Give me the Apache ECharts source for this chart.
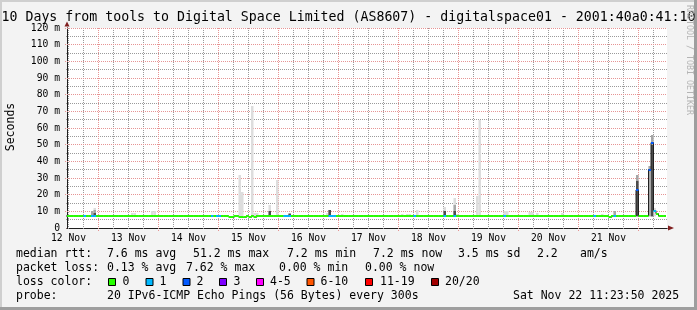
<!DOCTYPE html>
<html><head><meta charset="utf-8">
<script src="https://cdn.jsdelivr.net/npm/echarts@6/dist/echarts.min.js"></script>
<style>html,body{margin:0;padding:0;background:#f3f3f3}#c{width:697px;height:310px}</style>
</head><body><div id="c"></div>
<script>
// ---------- data (hours since 12 Nov 00:00) ----------
const startHour = 11.3972;          // 12 Nov 11:23:50
const spanHours = 240;              // 10 days
const firstBinHour = 11;            // hourly consolidated bins 11 .. 250
const dayLabels = ['12 Nov','13 Nov','14 Nov','15 Nov','16 Nov','17 Nov','18 Nov','19 Nov','20 Nov','21 Nov'];
const dayLabelHours = [12, 36, 60, 84, 108, 132, 156, 180, 204, 228];
const yMajorTicks = [0, 10, 20, 30, 40, 50, 60, 70, 80, 90, 100, 110, 120];
const yMinorTicks = [5, 15, 25, 35, 45, 55, 65, 75, 85, 95, 105, 115];

// median RTT (ms) per hourly bin
const medianRtt = [
  // 12 Nov 11-23
  7.2,7.2,7.2,7.2,7.2,7.2,7.2,7.2,7.2,7.2,7.2,7.2,7.2,
  // 13 Nov
  7.2,7.2,7.2,7.2,7.2,7.2,7.2,7.2,7.2,7.2,7.2,7.2,7.2,7.2,7.2,7.2,7.2,7.2,7.2,7.2,7.2,7.2,7.2,7.2,
  // 14 Nov
  7.2,7.2,7.2,7.2,7.2,7.2,7.2,7.2,7.2,7.2,7.2,7.2,7.2,7.2,7.2,7.2,7.2,7.2,7.2,7.2,7.2,7.2,7.2,7.2,
  // 15 Nov
  7.2,7.2,7.2,7.2,6.4,6.4,7.2,7.2,6.4,6.4,6.4,7.2,6.4,7.2,6.4,7.2,7.2,7.2,7.2,7.2,7.2,7.2,7.2,7.2,
  // 16 Nov
  7.2,7.2,7.2,7.2,7.2,7.2,7.2,7.2,7.2,7.2,7.2,7.2,7.2,7.2,7.2,7.2,7.2,7.2,7.2,7.2,7.2,7.2,7.2,7.2,
  // 17 Nov
  7.2,7.2,7.2,7.2,7.2,7.2,7.2,7.2,7.2,7.2,7.2,7.2,7.2,7.2,7.2,7.2,7.2,7.2,7.2,7.2,7.2,7.2,7.2,7.2,
  // 18 Nov
  7.2,7.2,7.2,7.2,7.2,7.2,7.2,7.2,7.2,7.2,7.2,7.2,7.2,7.2,7.2,7.2,7.2,7.2,7.2,7.2,7.2,7.2,7.2,7.2,
  // 19 Nov
  7.2,7.2,7.2,7.2,7.2,7.2,7.2,7.2,7.2,7.2,7.2,7.2,7.2,7.2,7.2,7.2,7.2,7.2,7.2,7.2,7.2,7.2,7.2,7.2,
  // 20 Nov
  7.2,7.2,7.2,7.2,7.2,7.2,7.2,7.2,7.2,7.2,7.2,7.2,7.2,7.2,7.2,7.2,7.2,7.2,7.2,7.2,7.2,7.2,7.2,7.2,
  // 21 Nov
  7.2,7.2,7.2,7.2,7.2,7.2,7.2,7.2,7.2,7.2,7.2,7.2,6.4,7.2,7.2,7.2,7.2,7.2,7.2,7.2,7.2,7.2,7.2,22.8,
  // 22 Nov 00-10
  7.2,7.2,7.2,7.2,35,51.2,10.4,8.6,7.2,7.2,7.2
];
// lost pings (of 20) per hourly bin
const lossCount = [
  0,0,0,0,0,0,0,1,0,0,1,1,0,
  0,0,0,0,0,0,0,0,0,0,0,0,0,0,0,0,0,0,0,0,0,0,0,0,
  0,0,0,0,0,0,0,0,0,0,0,0,0,0,0,0,0,0,0,0,0,1,0,1,
  1,0,0,0,0,0,0,0,0,0,0,0,0,0,0,0,0,0,0,0,0,0,0,0,
  0,0,1,1,1,0,0,0,0,0,0,0,0,0,0,0,0,0,0,0,1,1,1,0,
  0,0,0,0,0,0,0,0,0,0,0,0,0,0,0,0,0,0,0,0,0,0,0,0,
  0,0,0,0,0,0,1,0,0,0,0,0,0,0,0,0,0,0,1,0,0,0,1,0,
  0,0,0,0,0,0,0,0,0,0,0,0,0,0,0,0,0,0,1,0,0,0,0,0,
  0,0,0,0,0,0,0,0,0,0,0,0,0,0,0,0,0,0,0,0,0,0,0,0,
  0,0,0,0,0,0,1,0,0,0,0,0,0,0,1,0,0,0,0,0,0,0,0,2,
  0,0,0,0,2,2,1,0,0,0,0
];
// smoke (ping spread) for bins that show it
const smokeHour  = [21, 22, 37, 38, 45, 46, 80,   81,   85,   86,  87, 92,   95,   100, 115, 116, 121, 145, 147, 148, 151,  162,  166,  167, 175,  176,  186,  187,  196, 197, 199, 209, 225, 230,  239,  244, 245,  246];
const smokeLight = [10,  12,  9,  9,  10, 10, 31.8, 21.6, 73.2, 8.8, 9,  13.8, 28.8, 9.2, 9,   11,  8.6, 8.6, 8.4, 8.4, 10.8, 12.4, 18.2, 8.4, 19.2, 64.8, 10.2, 10.2, 9.4, 9.4, 8.8, 8.8, 8.6, 10.2, 31.8, 37,  55.8, 12];
const smokeMid   = [10,  11,  0,  0,  0,  0,  0,    0,    0,    0,   0,  0,    0,    9.2, 0,   11,  0,   0,   0,   0,   0,    0,    14,   0,   0,    0,    0,    0,    0,   0,   0,   0,   0,   10.2, 31.8, 37,  55.8, 0];
const smokeDark  = [0,   8.8, 0,  0,  0,  0,  0,    0,    0,    0,   0,  10.2, 0,    8.4, 0,   11,  0,   0,   0,   0,   0,    10.4, 10,   0,   0,    0,    0,    0,    0,   0,   0,   0,   0,   0,    28,   0,   50,   0];
const smokeFloor = 7.0;

const lossLegendLabels = ['0','1','2','3','4-5','6-10','11-19','20/20'];
const lossLegendColors = ['#26ff00','#00b8ff','#0059ff','#7e00ff','#ff00ff','#ff5500','#ff0000','#a10000'];

// ---------- helpers ----------
function lossColor(n){
  if (n <= 0) return lossLegendColors[0];
  if (n === 1) return lossLegendColors[1];
  if (n === 2) return lossLegendColors[2];
  if (n === 3) return lossLegendColors[3];
  if (n <= 5) return lossLegendColors[4];
  if (n <= 10) return lossLegendColors[5];
  if (n <= 19) return lossLegendColors[6];
  return lossLegendColors[7];
}
const binHours = medianRtt.map((v, i) => firstBinHour + i);
const bandData = binHours.map((h, i) => [h, medianRtt[i], lossCount[i]]);
const stepData = binHours.map((h, i) => [h, medianRtt[i]]);
stepData.push([firstBinHour + medianRtt.length, medianRtt[medianRtt.length - 1]]);
const smokeData = smokeHour.map((h, i) => [h, smokeLight[i], smokeMid[i], smokeDark[i], smokeFloor]);

// grid line positions
const vMinor = [], vMajor = [];
for (let h = 6; h < startHour + spanHours; h += 6) {
  if (h <= startHour) continue;
  (h % 24 === 0 ? vMajor : vMinor).push(h);
}
const hMajor = yMajorTicks.filter(v => v > 0);

const MONO = '"DejaVu Sans Mono", monospace';
const GRID_MINOR = '#9a9a9a';
const GRID_MAJOR = '#e69494';
const AXIS = '#1f1f1f';
const ARROW = '#801f1f';

const xCommon = { type: 'value', min: startHour, max: startHour + spanHours, position: 'bottom' };
const yCommon = { type: 'value', min: 0, max: 120, position: 'left' };

const chart = echarts.init(document.getElementById('c'), null, { renderer: 'canvas' });
const legendText = (text, x, y) => ({ type: 'text', x, y, style: { text, font: '11.5px ' + MONO, fill: '#000', textVerticalAlign: 'middle', verticalAlign: 'middle' } });

const graphics = [
  // frame
  { type: 'rect', shape: { x: 0, y: 0, width: 697, height: 2 }, style: { fill: '#cfcfcf' }, silent: true },
  { type: 'rect', shape: { x: 0, y: 0, width: 2, height: 310 }, style: { fill: '#cfcfcf' }, silent: true },
  { type: 'rect', shape: { x: 0, y: 307, width: 697, height: 3 }, style: { fill: '#9e9e9e' }, silent: true },
  { type: 'rect', shape: { x: 694, y: 0, width: 3, height: 310 }, style: { fill: '#9e9e9e' }, silent: true },
  // title
  { type: 'text', x: 348.5, y: 17.5, style: { text: '10 Days from tools to Digital Space Limited (AS8607) - digitalspace01 - 2001:40a0:41:10', font: '13.25px ' + MONO, fill: '#000', textAlign: 'center', align: 'center', textVerticalAlign: 'middle', verticalAlign: 'middle' } },
  // y unit
  { type: 'text', x: 11, y: 127, rotation: Math.PI / 2, style: { text: 'Seconds', font: '11.5px ' + MONO, fill: '#000', textAlign: 'center', align: 'center', textVerticalAlign: 'middle', verticalAlign: 'middle' } },
  // watermark
  { type: 'text', x: 689, y: 60, rotation: -Math.PI / 2, style: { text: 'RRDTOOL / TOBI OETIKER', font: '8.3px ' + MONO, fill: '#b4b4b4', textAlign: 'center', align: 'center', textVerticalAlign: 'middle', verticalAlign: 'middle' } },
  // legend rows
  legendText('median rtt:', 16, 254), legendText('7.6 ms avg', 107, 254), legendText('51.2 ms max', 193, 254),
  legendText('7.2 ms min', 287, 254), legendText('7.2 ms now', 373, 254), legendText('3.5 ms sd', 458, 254),
  legendText('2.2', 537, 254), legendText('am/s', 580, 254),
  legendText('packet loss:', 16, 268), legendText('0.13 % avg', 107, 268), legendText('7.62 % max', 186, 268),
  legendText('0.00 % min', 279, 268), legendText('0.00 % now', 365, 268),
  legendText('loss color:', 16, 282),
  legendText('probe:', 16, 296), legendText('20 IPv6-ICMP Echo Pings (56 Bytes) every 300s', 107, 296),
  legendText('Sat Nov 22 11:23:50 2025', 513, 296)
];
const boxX = [108.5, 146, 183, 219.5, 256.5, 307, 365.5, 431.5];
const lblX = [122.5, 159.5, 196.5, 233.5, 270, 320.5, 380, 445];
lossLegendLabels.forEach((l, i) => {
  graphics.push({ type: 'rect', shape: { x: boxX[i], y: 278.5, width: 7, height: 7 }, style: { fill: lossLegendColors[i], stroke: '#000', lineWidth: 1 } });
  graphics.push(legendText(l, lblX[i], 282));
});

// one custom series per grid-line family (drawn through the axes' scales)
function gridSeries(name, values, vertical, color, ext) {
  return { type: 'custom', name, xAxisIndex: 0, yAxisIndex: 0, clip: false, silent: true, z: 1,
    encode: vertical ? { x: 0 } : { y: 0 },
    data: values.map(v => [v]),
    renderItem: (params, api) => {
      const v = api.value(0);
      const bl = api.coord([startHour, 0]), tr = api.coord([startHour + spanHours, 120]);
      if (vertical) {
        const x = Math.floor(api.coord([v, 0])[0]) + 0.5;
        return { type: 'line', shape: { x1: x, y1: Math.floor(tr[1]), x2: x, y2: Math.floor(bl[1]) + ext }, style: { stroke: color, lineWidth: 1, lineDash: [1, 1] } };
      }
      const y = Math.floor(api.coord([startHour, v])[1]) + 0.5;
      return { type: 'line', shape: { x1: Math.floor(bl[0]) - ext, y1: y, x2: Math.floor(tr[0]), y2: y }, style: { stroke: color, lineWidth: 1, lineDash: [1, 1] } };
    } };
}

chart.setOption({
  backgroundColor: '#f3f3f3',
  animation: false,
  grid: { left: 67, top: 28, width: 600, height: 200, show: true, backgroundColor: '#ffffff', borderWidth: 0 },
  xAxis: [
    { ...xCommon,
      axisLine: { show: true, onZero: false, lineStyle: { color: ARROW, width: 1 }, symbol: ['none', 'triangle'], symbolSize: [5, 6], symbolOffset: [0, 4] },
      axisTick: { show: false },
      axisLabel: { show: true, customValues: dayLabelHours, formatter: v => dayLabels[dayLabelHours.indexOf(Math.round(v))] || '', fontFamily: MONO, fontSize: 9.7, color: '#000', margin: 5 },
      splitLine: { show: false } },
    { ...xCommon, axisLine: { show: true, onZero: false, lineStyle: { color: AXIS, width: 1 } }, axisLabel: { show: false }, axisTick: { show: false }, splitLine: { show: false } }
  ],
  yAxis: [
    { ...yCommon,
      axisLine: { show: true, onZero: false, lineStyle: { color: ARROW, width: 1 }, symbol: ['none', 'triangle'], symbolSize: [5, 5], symbolOffset: [0, 4] },
      axisTick: { show: false },
      splitLine: { show: false },
      axisLabel: { customValues: yMajorTicks, formatter: v => v === 0 ? '0' : v + ' m', fontFamily: MONO, fontSize: 9.7, color: '#000', margin: 7 } },
    { ...yCommon, axisLine: { show: true, onZero: false, lineStyle: { color: AXIS, width: 1 } }, axisTick: { show: false }, axisLabel: { show: false }, splitLine: { show: false } }
  ],
  series: [
    gridSeries('grid minor x', vMinor, true, GRID_MINOR, 1),
    gridSeries('grid minor y', yMinorTicks, false, GRID_MINOR, 1),
    gridSeries('grid major x', vMajor, true, GRID_MAJOR, 3),
    gridSeries('grid major y', hMajor, false, GRID_MAJOR, 2),
    { type: 'custom', name: 'smoke', xAxisIndex: 0, yAxisIndex: 0, clip: true, silent: true, z: 2,
      encode: { x: 0, y: 1 }, data: smokeData,
      renderItem: (params, api) => {
        const h = api.value(0);
        const x0 = api.coord([h, 0])[0], x1 = api.coord([h + 1, 0])[0];
        const yb = api.coord([h, api.value(4)])[1];
        const lv = [[api.value(1), '#dddddd'], [api.value(2), '#a6a6a6'], [api.value(3), '#4c4c4c']];
        const children = [];
        lv.forEach(([v, c]) => {
          if (v > 0) {
            const yt = Math.round(api.coord([h, v])[1]);
            children.push({ type: 'rect', shape: { x: x0, y: yt, width: x1 - x0, height: yb - yt }, style: { fill: c } });
          }
        });
        return { type: 'group', children };
      } },
    { type: 'line', name: 'median', xAxisIndex: 0, yAxisIndex: 0, data: stepData, step: 'end', symbol: 'none', clip: true, z: 3,
      lineStyle: { color: '#202020', width: 1 }, silent: true },
    { type: 'custom', name: 'median loss', xAxisIndex: 0, yAxisIndex: 0, clip: true, silent: true, z: 4,
      encode: { x: 0, y: 1 }, data: bandData,
      renderItem: (params, api) => {
        const h = api.value(0);
        const p0 = api.coord([h, api.value(1)]);
        const x1 = api.coord([h + 1, 0])[0];
        const yc = Math.round(p0[1]);
        return { type: 'rect', shape: { x: p0[0], y: yc - 1, width: x1 - p0[0], height: 2 }, style: { fill: lossColor(api.value(2)) } };
      } }
  ],
  graphic: graphics
});
</script></body></html>
